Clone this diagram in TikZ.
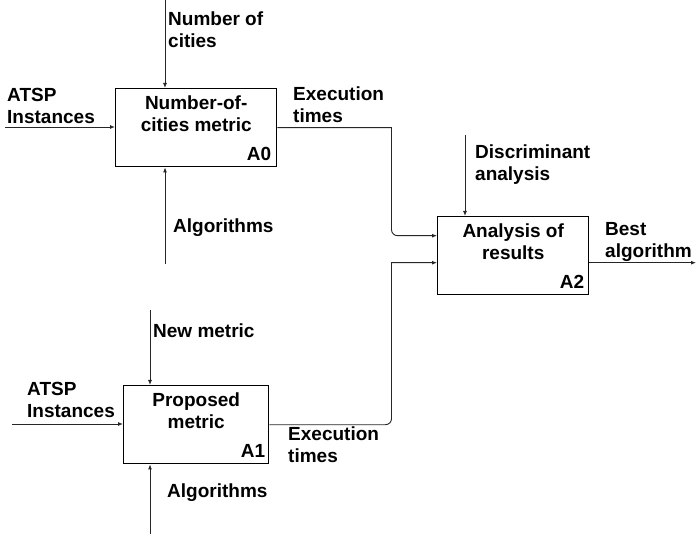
\documentclass[tikz,border=0pt]{standalone}
\usepackage{fontspec}
\setmainfont{Liberation Sans}
\usetikzlibrary{arrows.meta}

\tikzset{
  lbl/.style={font=\bfseries\fontsize{19}{22.5}\selectfont, inner sep=0pt, align=left, text=black},
  ttl/.style={lbl, align=center, anchor=north},
  idlbl/.style={lbl, anchor=base east},
  procbox/.style={draw=black, line width=1.4pt, inner sep=0pt, minimum height=78pt, anchor=north west},
  arr/.style={draw=black!85, line width=0.9pt, -{Latex[length=5pt,width=4pt]}},
}

\begin{document}
\begin{tikzpicture}[x=1pt,y=-1pt]
\useasboundingbox (0,0) rectangle (696,534);

% activity boxes
\node[procbox, minimum width=161pt] (A0) at (115,88) {};
\node[procbox, minimum width=151pt] (A2) at (437,216) {};
\node[procbox, minimum width=145pt] (A1) at (123,385) {};

% box titles and identifiers
\node[ttl] (A0t) at ([yshift=-5.3pt]A0.north) {\strut Number-of-\\cities metric};
\node[ttl] (A2t) at ([yshift=-5.3pt]A2.north) {\strut Analysis of\\results};
\node[ttl] (A1t) at ([yshift=-5.3pt]A1.north) {\strut Proposed\\metric};
\node[idlbl] (A0id) at ([xshift=-6pt,yshift=6.5pt]A0.south east) {A0};
\node[idlbl] (A2id) at ([xshift=-5pt,yshift=6.5pt]A2.south east) {A2};
\node[idlbl] (A1id) at ([xshift=-4pt,yshift=6.5pt]A1.south east) {A1};

% free ends of the arrows
\coordinate (c0) at (165,0);
\coordinate (m0) at (165,264);
\coordinate (i0) at (5,127);
\coordinate (c1) at (150,310);
\coordinate (m1) at (150,534);
\coordinate (i1) at (12,424);
\coordinate (c2) at (465,135);
\coordinate (busx) at (391.5,0);
\coordinate (A2in1) at ([yshift=20pt]A2.west);
\coordinate (A2in2) at ([yshift=-7pt]A2.west);
\coordinate (A2out) at ([yshift=-7pt]A2.east);
\coordinate (o2) at (696,0);

% A0 arrows
\draw[arr] (c0) -- (c0 |- A0.north);
\draw[arr] (m0) -- (m0 |- A0.south);
\draw[arr] (i0) -- (i0 -| A0.west);
% A1 arrows
\draw[arr] (c1) -- (c1 |- A1.north);
\draw[arr] (m1) -- (m1 |- A1.south);
\draw[arr] (i1) -- (i1 -| A1.west);
% A2 arrows
\draw[arr] (c2) -- (c2 |- A2.north);
\draw[arr] (A2out) -- (A2out -| o2);
% execution times into the analysis box
\draw[arr] (A0.east) -- (A0.east -| busx) [rounded corners=6pt] -- (busx |- A2in1) -- (A2in1);
\draw[arr] (A1.east) [rounded corners=6pt] -- (A1.east -| busx) [sharp corners] -- (busx |- A2in2) -- (A2in2);

% arrow labels
\node[lbl, anchor=north west] (l1) at (168,9.3) {\strut Number of\\cities};
\node[lbl, anchor=north west] (l2) at (7,85.3) {\strut ATSP\\Instances};
\node[lbl, anchor=base west] (l3) at (173,233) {Algorithms};
\node[lbl, anchor=north west] (l4) at (293,84.3) {\strut Execution\\times};
\node[lbl, anchor=north west] (l5) at (475,142.3) {\strut Discriminant\\analysis};
\node[lbl, anchor=north west] (l6) at (605,219.3) {\strut Best\\algorithm};
\node[lbl, anchor=base west] (l7) at (153,338) {New metric};
\node[lbl, anchor=north west] (l8) at (27,379.3) {\strut ATSP\\Instances};
\node[lbl, anchor=base west] (l9) at (167,497) {Algorithms};
\node[lbl, anchor=north west] (l10) at (288,424.3) {\strut Execution\\times};
\end{tikzpicture}
\end{document}
